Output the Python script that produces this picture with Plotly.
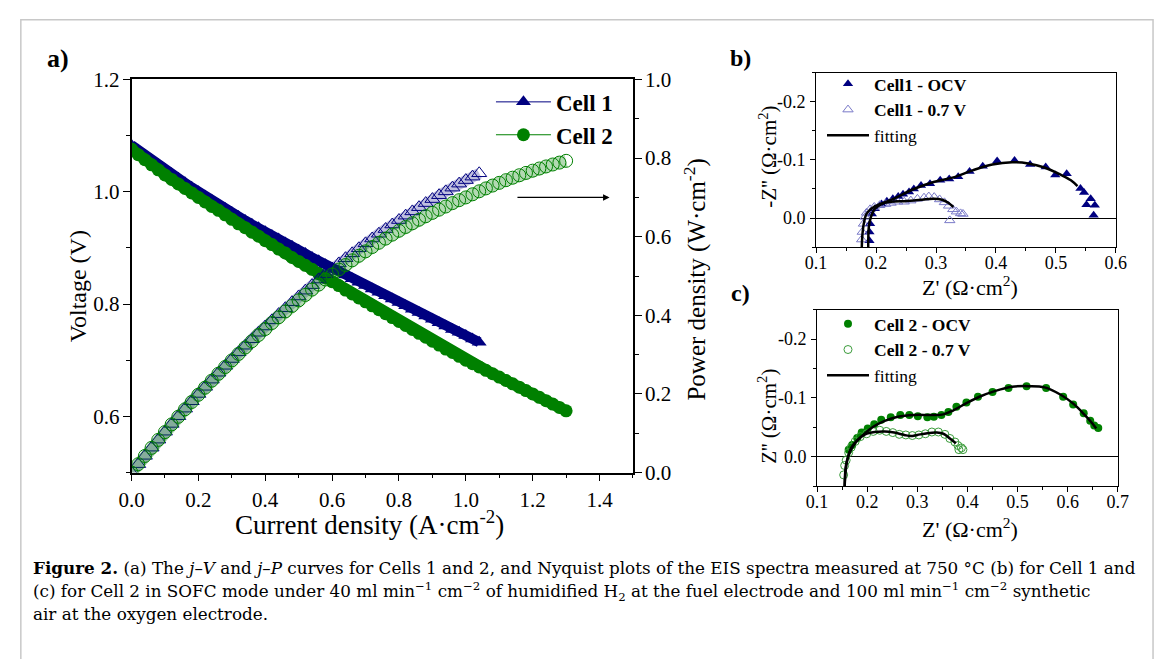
import plotly.graph_objects as go

W, H = 1166, 659
FONT = "Liberation Serif"
CAP_FONT = "DejaVu Serif"
NAVY = "#000080"
GREEN = "#008000"
LIGHT_BLUE = "#7a7ac8"
LIGHT_GREEN = "#3c9c3c"

# ---------------- panel a : j-V and j-P ----------------
j_cell1 = [0.00, 0.02, 0.04, 0.06, 0.08, 0.10, 0.12, 0.14, 0.16, 0.18,
           0.20, 0.22, 0.24, 0.26, 0.28, 0.30, 0.32, 0.34, 0.36, 0.38,
           0.40, 0.42, 0.44, 0.46, 0.48, 0.50, 0.52, 0.54, 0.56, 0.58,
           0.60, 0.62, 0.64, 0.66, 0.68, 0.70, 0.72, 0.74, 0.76, 0.78,
           0.80, 0.82, 0.84, 0.86, 0.88, 0.90, 0.92, 0.94, 0.96, 0.98,
           1.00, 1.02, 1.04]
v_cell1 = [1.083, 1.074, 1.065, 1.056, 1.048, 1.040, 1.032, 1.024, 1.016, 1.008,
           1.000, 0.992, 0.985, 0.977, 0.970, 0.963, 0.956, 0.949, 0.942, 0.936,
           0.929, 0.922, 0.916, 0.909, 0.903, 0.896, 0.890, 0.883, 0.877, 0.870,
           0.864, 0.858, 0.852, 0.845, 0.839, 0.833, 0.827, 0.821, 0.815, 0.809,
           0.803, 0.797, 0.791, 0.785, 0.779, 0.773, 0.767, 0.761, 0.755, 0.750,
           0.744, 0.738, 0.732]
p_cell1 = [0.0000, 0.0215, 0.0426, 0.0634, 0.0838, 0.1040, 0.1238, 0.1434, 0.1626, 0.1814,
           0.2000, 0.2182, 0.2364, 0.2540, 0.2716, 0.2889, 0.3059, 0.3227, 0.3391, 0.3557,
           0.3716, 0.3872, 0.4030, 0.4181, 0.4334, 0.4480, 0.4628, 0.4768, 0.4911, 0.5046,
           0.5184, 0.5320, 0.5453, 0.5577, 0.5705, 0.5831, 0.5954, 0.6075, 0.6194, 0.6310,
           0.6424, 0.6535, 0.6644, 0.6751, 0.6855, 0.6957, 0.7056, 0.7153, 0.7248, 0.7350,
           0.7440, 0.7528, 0.7613]

j_cell2 = [0.00, 0.02, 0.04, 0.06, 0.08, 0.10, 0.12, 0.14, 0.16, 0.18,
           0.20, 0.22, 0.24, 0.26, 0.28, 0.30, 0.32, 0.34, 0.36, 0.38,
           0.40, 0.42, 0.44, 0.46, 0.48, 0.50, 0.52, 0.54, 0.56, 0.58,
           0.60, 0.62, 0.64, 0.66, 0.68, 0.70, 0.72, 0.74, 0.76, 0.78,
           0.80, 0.82, 0.84, 0.86, 0.88, 0.90, 0.92, 0.94, 0.96, 0.98,
           1.00, 1.02, 1.04, 1.06, 1.08, 1.10, 1.12, 1.14, 1.16, 1.18,
           1.20, 1.22, 1.24, 1.26, 1.28, 1.30]
v_cell2 = [1.076, 1.066, 1.057, 1.048, 1.039, 1.030, 1.022, 1.014, 1.006, 0.998,
           0.990, 0.982, 0.974, 0.967, 0.959, 0.951, 0.943, 0.936, 0.928, 0.921,
           0.913, 0.906, 0.898, 0.891, 0.883, 0.876, 0.869, 0.862, 0.854, 0.847,
           0.840, 0.833, 0.825, 0.818, 0.811, 0.804, 0.797, 0.790, 0.783, 0.776,
           0.769, 0.762, 0.755, 0.748, 0.741, 0.734, 0.727, 0.720, 0.714, 0.707,
           0.700, 0.694, 0.688, 0.682, 0.676, 0.670, 0.664, 0.658, 0.652, 0.646,
           0.640, 0.634, 0.628, 0.622, 0.616, 0.610]
p_cell2 = [0.0000, 0.0213, 0.0423, 0.0629, 0.0831, 0.1030, 0.1226, 0.1420, 0.1610, 0.1796,
           0.1980, 0.2160, 0.2338, 0.2514, 0.2685, 0.2853, 0.3018, 0.3182, 0.3341, 0.3500,
           0.3652, 0.3805, 0.3951, 0.4099, 0.4238, 0.4380, 0.4519, 0.4655, 0.4782, 0.4913,
           0.5040, 0.5165, 0.5280, 0.5399, 0.5515, 0.5628, 0.5738, 0.5846, 0.5951, 0.6053,
           0.6152, 0.6248, 0.6342, 0.6433, 0.6521, 0.6606, 0.6688, 0.6768, 0.6854, 0.6929,
           0.7000, 0.7079, 0.7155, 0.7229, 0.7301, 0.7370, 0.7437, 0.7501, 0.7563, 0.7623,
           0.7680, 0.7735, 0.7787, 0.7837, 0.7885, 0.7930]

# ---------------- panel b : Nyquist, Cell 1 ----------------
b_ocv_zr = [0.189, 0.189, 0.190, 0.193, 0.198, 0.209, 0.218, 0.228, 0.237, 0.245, 0.255, 0.263,
            0.275, 0.290, 0.307, 0.322, 0.337, 0.356, 0.378, 0.402, 0.431, 0.457, 0.483,
            0.499, 0.518, 0.541, 0.547, 0.558, 0.551, 0.565, 0.563]
b_ocv_zi = [0.039, 0.024, 0.010, -0.007, -0.016, -0.024, -0.029, -0.033, -0.037, -0.041, -0.045, -0.050,
            -0.056, -0.059, -0.065, -0.067, -0.071, -0.080, -0.089, -0.098, -0.099, -0.092, -0.088,
            -0.074, -0.076, -0.051, -0.044, -0.033, -0.023, -0.022, -0.005]
b_07_zr = [0.176, 0.177, 0.179, 0.182, 0.184, 0.190, 0.197, 0.206, 0.216, 0.225, 0.236, 0.247,
           0.258, 0.269, 0.280, 0.288, 0.297, 0.306, 0.314, 0.321, 0.328, 0.334, 0.341, 0.345, 0.323]
b_07_zi = [0.037, 0.024, 0.010, -0.002, -0.009, -0.015, -0.019, -0.022, -0.024, -0.026, -0.028, -0.028,
           -0.030, -0.033, -0.035, -0.037, -0.036, -0.032, -0.027, -0.021, -0.015, -0.011, -0.008, -0.007, 0.004]
b_fit_ocv_zr = [0.187, 0.187, 0.188, 0.1915, 0.198, 0.209, 0.231, 0.263, 0.296, 0.329, 0.361,
                0.394, 0.427, 0.454, 0.481, 0.509, 0.525, 0.536]
b_fit_ocv_zi = [0.058, 0.038, 0.015, -0.002, -0.016, -0.024, -0.034, -0.050, -0.062, -0.070, -0.082,
                -0.092, -0.096, -0.094, -0.087, -0.074, -0.065, -0.055]
b_fit_07_zr = [0.176, 0.177, 0.1795, 0.184, 0.193, 0.206, 0.225, 0.247, 0.263, 0.280, 0.296,
               0.310, 0.321, 0.329]
b_fit_07_zi = [0.058, 0.032, 0.010, -0.007, -0.017, -0.024, -0.028, -0.029, -0.030, -0.032, -0.033,
               -0.0315, -0.026, -0.019]

# ---------------- panel c : Nyquist, Cell 2 ----------------
c_ocv_zr = [0.163, 0.170, 0.180, 0.189, 0.201, 0.214, 0.228, 0.247, 0.266, 0.284, 0.301, 0.320,
            0.333, 0.348, 0.362, 0.378, 0.398, 0.421, 0.450, 0.482, 0.518, 0.557, 0.591, 0.611,
            0.632, 0.645, 0.653, 0.661]
c_ocv_zi = [-0.012, -0.020, -0.032, -0.041, -0.048, -0.055, -0.063, -0.067, -0.071, -0.071, -0.069, -0.067,
            -0.068, -0.071, -0.076, -0.085, -0.092, -0.102, -0.110, -0.117, -0.120, -0.117, -0.102, -0.089,
            -0.074, -0.061, -0.053, -0.049]
c_07_zr = [0.153, 0.155, 0.158, 0.163, 0.168, 0.176, 0.186, 0.199, 0.212, 0.225, 0.238, 0.251, 0.264,
           0.277, 0.290, 0.303, 0.316, 0.329, 0.342, 0.355, 0.365, 0.375, 0.381, 0.388, 0.391, 0.383]
c_07_zi = [0.031, 0.015, 0.006, -0.007, -0.016, -0.026, -0.034, -0.039, -0.043, -0.045, -0.043, -0.041, -0.038,
           -0.037, -0.036, -0.037, -0.039, -0.042, -0.042, -0.038, -0.031, -0.025, -0.019, -0.015, -0.012, -0.012]
c_fit_ocv_zr = [0.155, 0.157, 0.160, 0.166, 0.176, 0.193, 0.212, 0.235, 0.261, 0.294, 0.326, 0.352,
                0.372, 0.398, 0.424, 0.456, 0.489, 0.522, 0.554, 0.587, 0.613, 0.632, 0.649, 0.657]
c_fit_ocv_zi = [0.050, 0.024, 0.007, -0.009, -0.023, -0.038, -0.051, -0.061, -0.068, -0.071, -0.071, -0.072,
                -0.079, -0.091, -0.102, -0.112, -0.119, -0.120, -0.118, -0.105, -0.089, -0.073, -0.057, -0.048]
c_fit_07_zr = [0.155, 0.157, 0.161, 0.168, 0.180, 0.196, 0.215, 0.235, 0.254, 0.274, 0.287, 0.300,
               0.320, 0.339, 0.352, 0.365, 0.377]
c_fit_07_zi = [0.050, 0.018, 0.002, -0.015, -0.028, -0.038, -0.042, -0.043, -0.041, -0.037, -0.035, -0.037,
               -0.040, -0.041, -0.039, -0.031, -0.023]

nyq_y_tickvals = [-0.2, -0.1, 0.0]
nyq_y_ticktext = ["-0.2", "-0.1", "0.0"]


def px(x):
    return x / W


def py(y):
    return 1 - y / H


fig = go.Figure()

# panel a : voltage bands (dense measured points drawn as thick bands + markers)
fig.add_trace(go.Scatter(x=j_cell1, y=v_cell1, mode="lines", showlegend=False, hoverinfo="skip",
                         line=dict(color=NAVY, width=10), xaxis="x", yaxis="y"))
fig.add_trace(go.Scatter(x=j_cell1, y=v_cell1, mode="lines+markers", name="Cell 1",
                         line=dict(color=NAVY, width=1),
                         marker=dict(symbol="triangle-up", size=13, color=NAVY, line=dict(width=0)),
                         xaxis="x", yaxis="y", legend="legend"))
fig.add_trace(go.Scatter(x=j_cell2, y=v_cell2, mode="lines", showlegend=False, hoverinfo="skip",
                         line=dict(color=GREEN, width=11), xaxis="x", yaxis="y"))
fig.add_trace(go.Scatter(x=j_cell2, y=v_cell2, mode="lines+markers", name="Cell 2",
                         line=dict(color=GREEN, width=1),
                         marker=dict(symbol="circle", size=13, color=GREEN, line=dict(width=0)),
                         xaxis="x", yaxis="y", legend="legend"))
# panel a : power density (open symbols)
fig.add_trace(go.Scatter(x=j_cell1, y=p_cell1, mode="lines", showlegend=False, hoverinfo="skip",
                         line=dict(color="rgba(0,0,128,0.25)", width=11), xaxis="x", yaxis="y2"))
fig.add_trace(go.Scatter(x=j_cell1, y=p_cell1, mode="markers", showlegend=False,
                         marker=dict(symbol="triangle-up-open", size=13, color=NAVY,
                                     line=dict(color=NAVY, width=1)),
                         xaxis="x", yaxis="y2"))
fig.add_trace(go.Scatter(x=j_cell2, y=p_cell2, mode="lines", showlegend=False, hoverinfo="skip",
                         line=dict(color="rgba(0,128,0,0.30)", width=12), xaxis="x", yaxis="y2"))
fig.add_trace(go.Scatter(x=j_cell2, y=p_cell2, mode="markers", showlegend=False,
                         marker=dict(symbol="circle-open", size=13, color=GREEN,
                                     line=dict(color=GREEN, width=1)),
                         xaxis="x", yaxis="y2"))

# panel b traces
fig.add_trace(go.Scatter(x=b_ocv_zr, y=b_ocv_zi, mode="markers", name="<b>Cell1 - OCV</b>",
                         marker=dict(symbol="triangle-up", size=9, color=NAVY),
                         xaxis="x3", yaxis="y3", legend="legend2"))
fig.add_trace(go.Scatter(x=b_07_zr, y=b_07_zi, mode="markers", name="<b>Cell1 - 0.7 V</b>",
                         marker=dict(symbol="triangle-up-open", size=9, color=LIGHT_BLUE,
                                     line=dict(width=1)),
                         xaxis="x3", yaxis="y3", legend="legend2"))
fig.add_trace(go.Scatter(x=b_fit_ocv_zr, y=b_fit_ocv_zi, mode="lines", name="fitting",
                         line=dict(color="black", width=2.5, shape="spline"),
                         xaxis="x3", yaxis="y3", legend="legend2"))
fig.add_trace(go.Scatter(x=b_fit_07_zr, y=b_fit_07_zi, mode="lines", showlegend=False,
                         line=dict(color="black", width=2.5, shape="spline"),
                         xaxis="x3", yaxis="y3"))

# panel c traces
fig.add_trace(go.Scatter(x=c_ocv_zr, y=c_ocv_zi, mode="markers", name="<b>Cell 2 - OCV</b>",
                         marker=dict(symbol="circle", size=8, color=GREEN),
                         xaxis="x4", yaxis="y4", legend="legend3"))
fig.add_trace(go.Scatter(x=c_07_zr, y=c_07_zi, mode="markers", name="<b>Cell 2 - 0.7 V</b>",
                         marker=dict(symbol="circle-open", size=8, color=LIGHT_GREEN,
                                     line=dict(width=1)),
                         xaxis="x4", yaxis="y4", legend="legend3"))
fig.add_trace(go.Scatter(x=c_fit_ocv_zr, y=c_fit_ocv_zi, mode="lines", name="fitting",
                         line=dict(color="black", width=2.5, shape="spline"),
                         xaxis="x4", yaxis="y4", legend="legend3"))
fig.add_trace(go.Scatter(x=c_fit_07_zr, y=c_fit_07_zi, mode="lines", showlegend=False,
                         line=dict(color="black", width=2.5, shape="spline"),
                         xaxis="x4", yaxis="y4"))

axis_common = dict(showgrid=False, showline=True, linecolor="black",
                   ticks="outside", tickcolor="black", color="black")

tick_a = dict(family=FONT, size=21, color="black")
tick_bc = dict(family=FONT, size=18, color="black")
minor_a = dict(dtick=0.1, ticklen=4, tickwidth=1.2, ticks="outside", tickcolor="black")
minor_bc = dict(dtick=0.05, ticklen=3, ticks="outside", tickcolor="black")

fig.update_layout(
    autosize=True,
    margin=dict(l=0, r=0, t=0, b=0),
    paper_bgcolor="white", plot_bgcolor="white",
    font=dict(family=FONT, color="black"),
    xaxis=dict(domain=[px(121), px(633)], range=[0, 1.5], anchor="y", dtick=0.2, tick0=0,
               tickformat=".1f", ticklen=7, tickwidth=1.3, linewidth=1.5, mirror=True,
               minor=minor_a, tickfont=tick_a, zeroline=False, **axis_common),
    yaxis=dict(domain=[py(478), py(70)], range=[0.5, 1.2], anchor="x", dtick=0.2, tick0=0,
               tickformat=".1f", ticklen=7, tickwidth=1.3, linewidth=1.5, mirror=False,
               ticklabelstandoff=-1,
               minor=minor_a, tickfont=tick_a, zeroline=False, **axis_common),
    yaxis2=dict(overlaying="y", side="right", anchor="x", range=[0, 1.0], dtick=0.2, tick0=0,
                tickformat=".1f", ticklen=7, tickwidth=1.3, linewidth=1.5,
                ticklabelstandoff=-1,
                minor=minor_a, tickfont=tick_a, zeroline=False, **axis_common),
    xaxis3=dict(domain=[px(820), px(1126)], range=[0.1, 0.6], anchor="y3", dtick=0.1, tick0=0,
                tickformat=".1f", ticklen=5, tickwidth=1.1, linewidth=1.2, mirror=True,
                ticklabelstandoff=-6,
                minor=minor_bc, tickfont=tick_bc, zeroline=False, **axis_common),
    yaxis3=dict(domain=[py(244), py(63)], range=[0.05, -0.25], anchor="x3",
                tickvals=nyq_y_tickvals, ticktext=nyq_y_ticktext, ticklen=5, tickwidth=1.1,
                linewidth=1.2, mirror=True, minor=minor_bc, tickfont=tick_bc, ticklabelstandoff=1,
                zeroline=True, zerolinecolor="black", zerolinewidth=1.2, **axis_common),
    xaxis4=dict(domain=[px(821), px(1128)], range=[0.1, 0.7], anchor="y4", dtick=0.1, tick0=0,
                tickformat=".1f", ticklen=5, tickwidth=1.1, linewidth=1.2, mirror=True,
                ticklabelstandoff=-6,
                minor=minor_bc, tickfont=tick_bc, zeroline=False, **axis_common),
    yaxis4=dict(domain=[py(492), py(309)], range=[0.05, -0.25], anchor="x4",
                tickvals=nyq_y_tickvals, ticktext=nyq_y_ticktext, ticklen=5, tickwidth=1.1,
                linewidth=1.2, mirror=True, minor=minor_bc, tickfont=tick_bc, ticklabelstandoff=1,
                zeroline=True, zerolinecolor="black", zerolinewidth=1.2, **axis_common),
    legend=dict(x=px(488), y=py(71), xanchor="left", yanchor="top", bgcolor="rgba(0,0,0,0)",
                itemwidth=55, font=dict(family=FONT, size=23, color="black", weight="bold"),
                tracegroupgap=0),
    legend2=dict(x=px(826), y=py(56), xanchor="left", yanchor="top", bgcolor="rgba(0,0,0,0)",
                 itemwidth=42, font=dict(family=FONT, size=17.5, color="black")),
    legend3=dict(x=px(826), y=py(305), xanchor="left", yanchor="top", bgcolor="rgba(0,0,0,0)",
                 itemwidth=42, font=dict(family=FONT, size=17.5, color="black")),
)

annotations = []


def text_ann(x, y, text, size, angle=0, bold=False, xanchor="center", family=FONT):
    annotations.append(dict(
        x=px(x), y=py(y), xref="paper", yref="paper", text=("<b>%s</b>" % text) if bold else text,
        showarrow=False, textangle=angle, xanchor=xanchor, yanchor="middle",
        font=dict(family=family, size=size, color="black")))


text_ann(46, 48, "a)", 26, bold=True)
text_ann(743, 48, "b)", 24, bold=True)
text_ann(743, 292, "c)", 24, bold=True)
text_ann(66, 285, "Voltage (V)", 24, angle=-90)
text_ann(364, 530, "Current density (A·cm<sup>-2</sup>)", 27)
text_ann(697, 278, "Power density (W·cm<sup>-2</sup>)", 25, angle=-90)
text_ann(771, 150, "-Z'' (Ω·cm<sup>2</sup>)", 21, angle=-90)
text_ann(977, 284, "Z' (Ω·cm<sup>2</sup>)", 22)
text_ann(771, 420, "Z'' (Ω·cm<sup>2</sup>)", 21, angle=-90)
text_ann(977, 536, "Z' (Ω·cm<sup>2</sup>)", 22)

cap1 = ("<b>Figure 2.</b> (a) The <i>j</i>–<i>V</i> and <i>j</i>–<i>P</i> curves for Cells 1 and 2, "
        "and Nyquist plots of the EIS spectra measured at 750 °C (b) for Cell 1 and")
cap2 = ("(c) for Cell 2 in SOFC mode under 40 ml min<sup>−1</sup> cm<sup>−2</sup> of humidified "
        "H<sub>2</sub> at the fuel electrode and 100 ml min<sup>−1</sup> cm<sup>−2</sup> synthetic")
cap3 = "air at the oxygen electrode."
text_ann(18, 577, cap1, 16.8, xanchor="left", family=CAP_FONT)
text_ann(18, 601, cap2, 16.8, xanchor="left", family=CAP_FONT)
text_ann(18, 625, cap3, 16.8, xanchor="left", family=CAP_FONT)

# arrow pointing to the power density axis
annotations.append(dict(x=1.43, y=0.70, xref="x", yref="y2", ax=1.15, ay=0.70, axref="x", ayref="y2",
                        showarrow=True, arrowhead=2, arrowsize=1, arrowwidth=1.3, arrowcolor="black",
                        text=""))

fig.update_layout(annotations=annotations)

fig.add_shape(type="rect", xref="paper", yref="paper", x0=px(8), x1=px(1164), y0=-0.05, y1=py(8),
              line=dict(color="#c8c8c8", width=1.5), fillcolor="rgba(0,0,0,0)", layer="below")

# the graph div is pinned to the window's top-left corner at exactly 1166 x 659 px
fig.write_html("out.html",
               default_width="%dpx;position:fixed;left:0px;top:0px;margin:0px" % W,
               default_height="%dpx" % H,
               post_script="document.body.style.margin='0px';"
                           "document.body.style.overflow='hidden';")
